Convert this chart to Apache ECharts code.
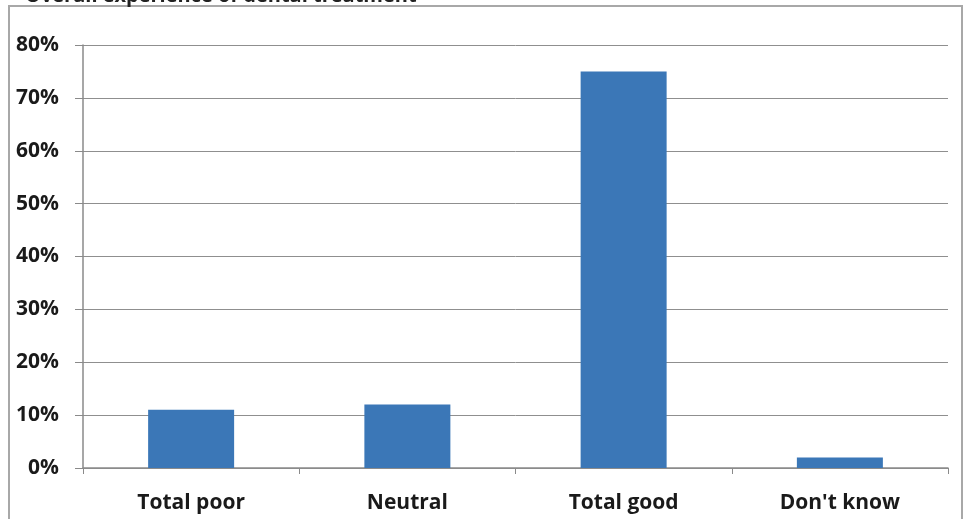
<!DOCTYPE html>
<html>
<head>
<meta charset="utf-8">
<script src="https://cdn.jsdelivr.net/npm/echarts@6/dist/echarts.min.js"></script>
<style>
  html, body { margin: 0; padding: 0; background: #fff; }
  #chart { width: 975px; height: 519px; }
</style>
</head>
<body>
<div id="chart"></div>
<script>
// Survey answers, share of respondents (%)
const categories = ['Total poor', 'Neutral', 'Total good', "Don't know"];
const shares = [11, 12, 75, 2];
const yTicks = [0, 10, 20, 30, 40, 50, 60, 70, 80];
const titleText = 'Overall experience of dental treatment';

const chart = echarts.init(document.getElementById('chart'), null, { renderer: 'canvas' });
const font = '"Open Sans", Lato, "Liberation Sans", sans-serif';

chart.setOption({
  animation: false,
  backgroundColor: '#ffffff',
  title: {
    text: titleText,
    left: 20,
    top: -19,
    textStyle: { fontFamily: font, fontWeight: 'bold', fontSize: 20, color: '#222' }
  },
  graphic: [{
    type: 'rect',
    shape: { x: 9, y: 6, width: 953, height: 530 },
    style: { fill: 'none', stroke: '#a8a8a8', lineWidth: 2 },
    silent: true
  }],
  grid: { left: 83, right: 27, top: 45, bottom: 51 },
  xAxis: {
    type: 'category',
    data: categories,
    axisLine: { lineStyle: { color: '#8a8a8a', width: 1.5 } },
    axisTick: { show: true, alignWithLabel: false, length: 6, lineStyle: { color: '#8a8a8a' } },
    axisLabel: { fontFamily: font, fontWeight: 'bold', fontSize: 21, color: '#1a1a1a', margin: 25 }
  },
  yAxis: {
    type: 'value',
    min: yTicks[0],
    max: yTicks[yTicks.length - 1],
    interval: 10,
    axisLine: { show: true, lineStyle: { color: '#8a8a8a', width: 1.5 } },
    axisTick: { show: true, length: 8, lineStyle: { color: '#8a8a8a' } },
    splitLine: { lineStyle: { color: '#8f8f8f', width: 1 } },
    axisLabel: {
      fontFamily: font, fontWeight: 'bold', fontSize: 21, color: '#1a1a1a', margin: 24,
      formatter: v => v + '%'
    }
  },
  series: [{
    type: 'bar',
    data: shares,
    barWidth: 86,
    itemStyle: { color: '#3b77b7' }
  }]
});
</script>
</body>
</html>
